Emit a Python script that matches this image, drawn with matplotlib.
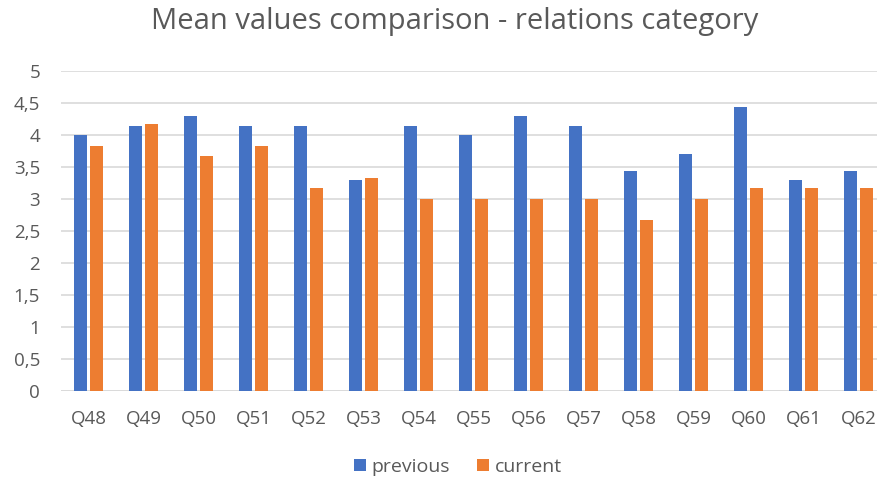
import numpy as np
import matplotlib.pyplot as plt
from matplotlib.ticker import FuncFormatter

questions = ['Q48', 'Q49', 'Q50', 'Q51', 'Q52', 'Q53', 'Q54', 'Q55',
             'Q56', 'Q57', 'Q58', 'Q59', 'Q60', 'Q61', 'Q62']
previous = [4.0, 4.14, 4.29, 4.14, 4.14, 3.29, 4.14, 4.0,
            4.29, 4.14, 3.43, 3.71, 4.43, 3.29, 3.43]
current = [3.83, 4.17, 3.67, 3.83, 3.17, 3.33, 3.0, 3.0,
           3.0, 3.0, 2.67, 3.0, 3.17, 3.17, 3.17]

plt.rcParams['font.family'] = ['Open Sans', 'DejaVu Sans']
text_color = '#595959'

fig = plt.figure(figsize=(8.77, 4.82), dpi=100)
# plot area runs slightly past the right edge of the image
ax = fig.add_axes([61 / 877, 1 - 391 / 482, 825 / 877, 320 / 482])

x = np.arange(len(questions))
w = 0.23
gap = 0.055
ax.bar(x - (w + gap) / 2, previous, w, color='#4472C4', label='previous', zorder=3)
ax.bar(x + (w + gap) / 2, current, w, color='#ED7D31', label='current', zorder=3)

ax.set_xlim(-0.5, len(questions) - 0.5)
ax.set_ylim(0, 5)
ax.set_yticks(np.arange(0, 5.01, 0.5))
ax.yaxis.set_major_formatter(FuncFormatter(lambda v, p: f'{v:g}'.replace('.', ',')))
ax.set_xticks(x)
ax.set_xticklabels(questions)
ax.tick_params(axis='both', length=0, labelsize=13.5, colors=text_color)
ax.tick_params(axis='x', pad=14)
ax.tick_params(axis='y', pad=15)
ax.grid(axis='y', color='#D9D9D9', linewidth=1.2, zorder=0)
for s in ax.spines.values():
    s.set_visible(False)
ax.axhline(0, color='#D9D9D9', linewidth=1.2, zorder=1)

fig.text(455 / 877, 1 - 22 / 482, 'Mean values comparison - relations category',
         ha='center', va='center', fontsize=21, color=text_color)

fig.legend(loc='center', bbox_to_anchor=(458 / 877, 1 - 467 / 482), ncol=2,
           frameon=False, fontsize=14, handlelength=0.6, handleheight=0.6,
           columnspacing=1.4, handletextpad=0.3, labelcolor=text_color)

fig.savefig('out.png', dpi=100)
